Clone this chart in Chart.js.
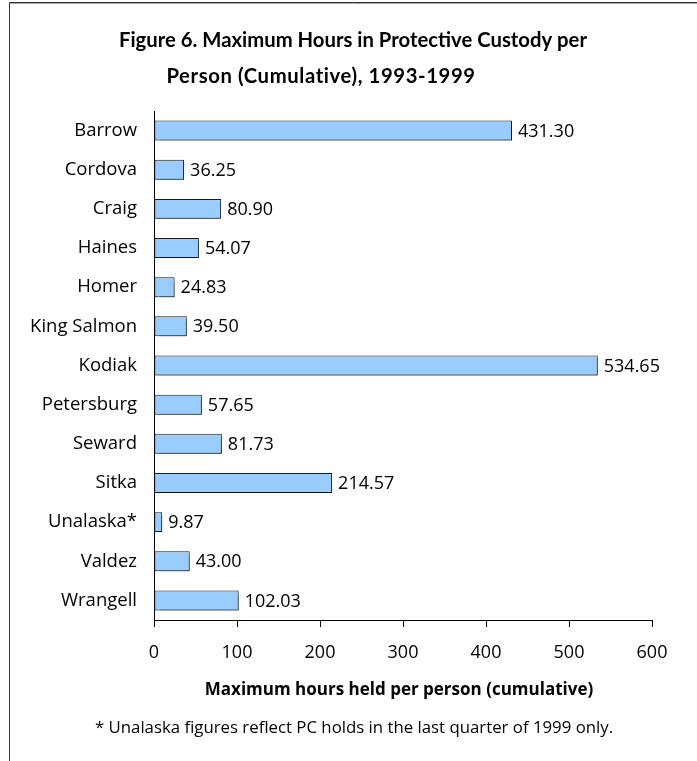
<!DOCTYPE html>
<html>
<head>
<meta charset="utf-8">
<script src="https://cdn.jsdelivr.net/npm/chart.js@4"></script>
<style>
html,body{margin:0;padding:0;background:#fff;}
#wrap{position:relative;width:697px;height:761px;}
</style>
</head>
<body>
<div id="wrap"><canvas id="c" width="697" height="761"></canvas></div>
<script>
const categories = ["Barrow","Cordova","Craig","Haines","Homer","King Salmon","Kodiak","Petersburg","Seward","Sitka","Unalaska*","Valdez","Wrangell"];
const maxHours = [431.30,36.25,80.90,54.07,24.83,39.50,534.65,57.65,81.73,214.57,9.87,43.00,102.03];
const xTicks = [0,100,200,300,400,500,600];
const titleLines = ["Figure 6. Maximum Hours in Protective Custody per","Person (Cumulative), 1993-1999"];
const axisTitle = "Maximum hours held per person (cumulative)";
const footnote = "* Unalaska figures reflect PC holds in the last quarter of 1999 only.";

const FONT = "'Open Sans', Lato, sans-serif";
const TFONT = "Lato, 'Open Sans', sans-serif";

const decor = {
  id:'decor',
  beforeDatasetsDraw(chart){
    const ctx = chart.ctx;
    ctx.save();
    ctx.shadowColor = 'rgba(0,0,0,0.35)';
    ctx.shadowOffsetX = 2;
    ctx.shadowOffsetY = 2;
    ctx.shadowBlur = 1;
  },
  afterDatasetsDraw(chart){
    const ctx = chart.ctx;
    ctx.restore();
    const meta = chart.getDatasetMeta(0);
    ctx.save();
    ctx.fillStyle = '#000';
    ctx.font = "18px " + FONT;
    ctx.textAlign = 'left';
    ctx.textBaseline = 'middle';
    meta.data.forEach((el,i)=>{
      ctx.fillText(maxHours[i].toFixed(2), el.x + 6, el.y + 1);
    });
    ctx.restore();
  },
  afterDraw(chart){
    const ctx = chart.ctx;
    ctx.save();
    ctx.strokeStyle = '#333';
    ctx.lineWidth = 1;
    ctx.beginPath();
    ctx.moveTo(9.5, 761); ctx.lineTo(9.5, 2.5); ctx.lineTo(697, 2.5);
    ctx.stroke();
    ctx.strokeStyle = '#aaa';
    ctx.beginPath();
    ctx.moveTo(10, 3.5); ctx.lineTo(697, 3.5);
    ctx.stroke();
    ctx.fillStyle = '#000';
    ctx.textAlign = 'center';
    ctx.textBaseline = 'alphabetic';
    ctx.font = "bold 20.3px " + TFONT;
    ctx.fillText(titleLines[0], 353, 47);
    if ('letterSpacing' in ctx) ctx.letterSpacing = '0.6px';
    ctx.fillText(titleLines[1], 321, 83);
    if ('letterSpacing' in ctx) ctx.letterSpacing = '0px';
    ctx.font = "bold 17px " + FONT;
    ctx.fillText(axisTitle, 399, 695);
    ctx.font = "16.8px " + FONT;
    ctx.fillText(footnote, 354, 733);
    ctx.restore();
  }
};

new Chart(document.getElementById('c'), {
  type: 'bar',
  data: {
    labels: categories,
    datasets: [{
      data: maxHours,
      backgroundColor: '#99CCFF',
      borderColor: '#1a1a1a',
      borderWidth: 1,
      borderSkipped: false,
      categoryPercentage: 1.0,
      barPercentage: 0.51
    }]
  },
  options: {
    indexAxis: 'y',
    responsive: false,
    animation: false,
    devicePixelRatio: 1,
    layout: { padding: { top: 111, right: 45, left: 0, bottom: 0 } },
    plugins: { legend: { display: false }, title: { display: false }, tooltip: { enabled: false } },
    scales: {
      x: {
        min: 0, max: 600,
        afterBuildTicks(scale){ scale.ticks = xTicks.map(v=>({value:v})); },
        afterFit(scale){ scale.height = 141; },
        grid: { display: true, drawOnChartArea: false, drawTicks: true, tickLength: 7, color: '#000', lineWidth: 1 },
        border: { display: true, color: '#000', width: 1 },
        ticks: { color: '#000', font: { family: FONT, size: 18 }, padding: 15, maxRotation: 0 }
      },
      y: {
        afterFit(scale){ scale.width = 154; },
        grid: { display: false, drawTicks: false },
        border: { display: true, color: '#000', width: 1 },
        ticks: { color: '#000', font: { family: FONT, size: 18.5 }, padding: 17 }
      }
    }
  },
  plugins: [decor]
});
</script>
</body>
</html>
